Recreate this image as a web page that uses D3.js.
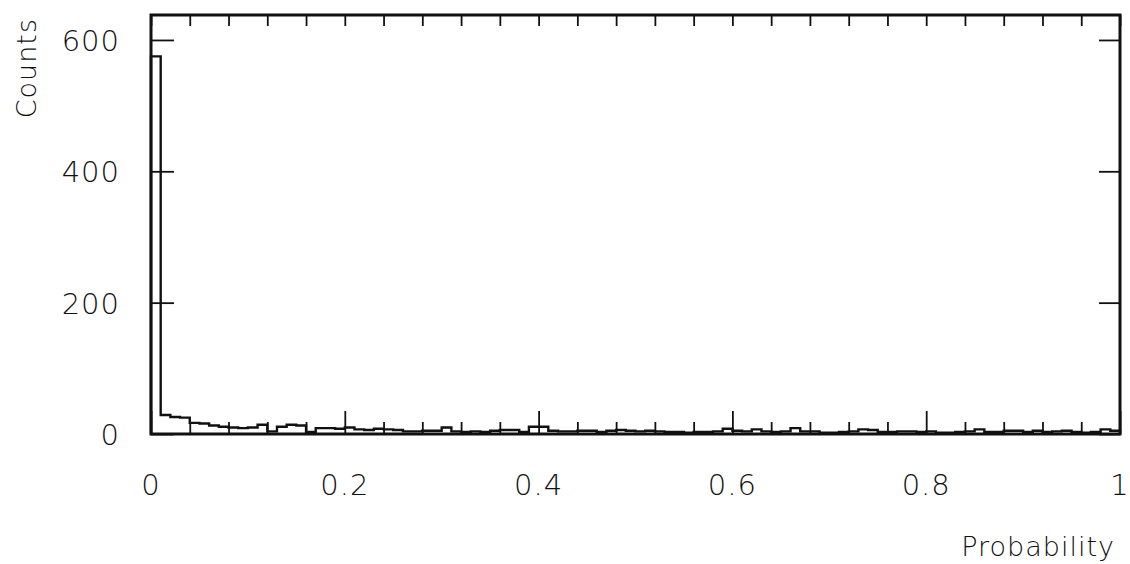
<!DOCTYPE html>
<html>
<head>
<meta charset="utf-8">
<script src="https://cdn.jsdelivr.net/npm/d3@7"></script>
<style>
  html, body { margin: 0; padding: 0; background: #fff; }
  svg { display: block; }
  text { font-family: "DejaVu Sans", "Liberation Sans", sans-serif; font-weight: 200; fill: #111; }
</style>
</head>
<body>
<svg id="chart" width="1130" height="564"></svg>
<script>
// Histogram: 100 bins of width 0.01 over [0, 1]
const binEdgesStart = 0;
const binWidth = 0.01;
const counts = [
  575, 29, 26, 25, 17, 16, 13, 11, 10, 9,
  10, 14, 4, 11, 14, 13, 3, 9, 9, 8,
  10, 7, 6, 8, 7, 6, 4, 4, 5, 5,
  10, 4, 3, 4, 3, 5, 6, 6, 3, 11,
  11, 5, 4, 4, 5, 5, 3, 5, 6, 5,
  4, 5, 4, 3, 3, 2, 3, 3, 4, 8,
  5, 4, 7, 4, 3, 4, 9, 4, 4, 2,
  2, 3, 4, 7, 6, 3, 3, 4, 4, 3,
  4, 2, 2, 3, 4, 7, 3, 3, 5, 5,
  3, 5, 3, 4, 5, 3, 2, 3, 7, 5
];
const xTickValues = [0, 0.2, 0.4, 0.6, 0.8, 1];
const xTickLabels = ["0", "0.2", "0.4", "0.6", "0.8", "1"];
const xMinorTicks = d3.range(0, 25).map(i => i * 0.04);
const yTickValues = [0, 200, 400, 600];
const yTickLabels = ["0", "200", "400", "600"];
const xTitle = "Probability";
const yTitle = "Counts";

const svg = d3.select("#chart");
const L = 151, R = 1120, T = 15, B = 434;

const x = d3.scaleLinear().domain([0, 1]).range([L, R]);
const y = d3.scaleLinear().domain([0, 638]).range([B, T]);

// histogram step path
const pts = [];
pts.push([x(0), y(0)]);
counts.forEach((c, i) => {
  const x0 = binEdgesStart + i * binWidth, x1 = x0 + binWidth;
  pts.push([x(x0), y(c)]);
  pts.push([x(x1), y(c)]);
});
pts.push([x(1), y(0)]);
svg.append("path")
  .attr("d", d3.line()(pts))
  .attr("fill", "none")
  .attr("stroke", "#111")
  .attr("stroke-width", 2.4)
  .attr("stroke-linejoin", "miter");

// bottom axis ticks (drawn inward)
const gBottom = svg.append("g").attr("transform", `translate(0,${B})`);
const minorOnly = xMinorTicks.filter(v => !xTickValues.some(t => Math.abs(t - v) < 1e-9));
gBottom.call(d3.axisBottom(x).tickValues(minorOnly).tickSize(-12).tickFormat(""));
gBottom.append("g").call(d3.axisBottom(x).tickValues(xTickValues).tickSize(-23).tickFormat(""));
// top axis ticks
const gTop = svg.append("g").attr("transform", `translate(0,${T})`);
gTop.call(d3.axisTop(x).tickValues(xMinorTicks.concat([1])).tickSize(-11).tickFormat(""));
// left axis ticks
const gLeft = svg.append("g").attr("transform", `translate(${L},0)`);
gLeft.call(d3.axisLeft(y).tickValues(yTickValues).tickSize(-23).tickFormat(""));
// right axis ticks
const gRight = svg.append("g").attr("transform", `translate(${R},0)`);
gRight.call(d3.axisRight(y).tickValues(yTickValues).tickSize(-21).tickFormat(""));

svg.selectAll(".domain").remove();
svg.selectAll(".tick line").attr("stroke", "#111").attr("stroke-width", 1.8);

// frame
svg.append("rect")
  .attr("x", L).attr("y", T)
  .attr("width", R - L).attr("height", B - T)
  .attr("fill", "none").attr("stroke", "#111").attr("stroke-width", 3);

// x tick labels
svg.append("g").selectAll("text")
  .data(xTickValues)
  .join("text")
  .attr("x", d => x(d))
  .attr("y", 495)
  .attr("text-anchor", "middle")
  .attr("font-size", 29)
  .attr("letter-spacing", 1)
  .text((d, i) => xTickLabels[i]);

// y tick labels
svg.append("g").selectAll("text")
  .data(yTickValues)
  .join("text")
  .attr("x", 120)
  .attr("y", d => y(d) + 11)
  .attr("text-anchor", "end")
  .attr("font-size", 29)
  .attr("letter-spacing", 1)
  .text((d, i) => yTickLabels[i]);

// titles
svg.append("text")
  .attr("x", 1115).attr("y", 556)
  .attr("text-anchor", "end")
  .attr("font-size", 27)
  .attr("letter-spacing", 1)
  .text(xTitle);

svg.append("text")
  .attr("transform", "translate(36,18) rotate(-90)")
  .attr("text-anchor", "end")
  .attr("font-size", 27)
  .attr("letter-spacing", 1)
  .text(yTitle);
</script>
</body>
</html>
